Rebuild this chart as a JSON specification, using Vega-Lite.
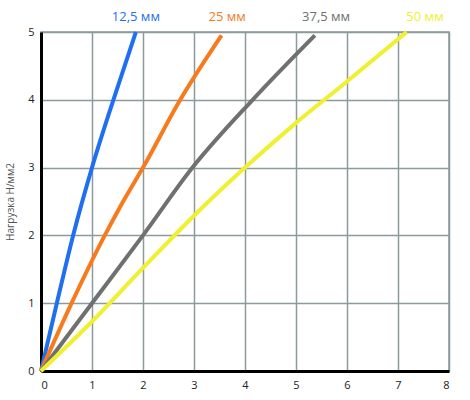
{
  "$schema": "https://vega.github.io/schema/vega-lite/v6.json",
  "width": 408,
  "height": 339,
  "autosize": "none",
  "padding": {"left": 41, "top": 32, "right": 21, "bottom": 29},
  "background": "white",
  "config": {
    "view": {"stroke": "#8c9a9a", "strokeWidth": 1.5},
    "font": "Open Sans"
  },
  "datasets": {
    "curves": [
      {"series": "12,5 мм", "x": 0, "y": 0},
      {"series": "12,5 мм", "x": 0.31, "y": 1},
      {"series": "12,5 мм", "x": 0.63, "y": 2},
      {"series": "12,5 мм", "x": 1.0, "y": 3},
      {"series": "12,5 мм", "x": 1.42, "y": 4},
      {"series": "12,5 мм", "x": 1.86, "y": 5},
      {"series": "25 мм", "x": 0, "y": 0},
      {"series": "25 мм", "x": 0.6, "y": 1},
      {"series": "25 мм", "x": 1.25, "y": 2},
      {"series": "25 мм", "x": 1.55, "y": 2.42},
      {"series": "25 мм", "x": 2.0, "y": 3},
      {"series": "25 мм", "x": 2.73, "y": 4},
      {"series": "25 мм", "x": 3.54, "y": 4.95},
      {"series": "37,5 мм", "x": 0, "y": 0},
      {"series": "37,5 мм", "x": 1.0, "y": 1},
      {"series": "37,5 мм", "x": 2.0, "y": 2},
      {"series": "37,5 мм", "x": 2.97, "y": 3},
      {"series": "37,5 мм", "x": 4.15, "y": 4},
      {"series": "37,5 мм", "x": 5.37, "y": 4.95},
      {"series": "50 мм", "x": 0, "y": 0},
      {"series": "50 мм", "x": 1, "y": 0.73},
      {"series": "50 мм", "x": 2, "y": 1.52},
      {"series": "50 мм", "x": 3, "y": 2.29},
      {"series": "50 мм", "x": 4, "y": 3.0},
      {"series": "50 мм", "x": 5, "y": 3.66},
      {"series": "50 мм", "x": 6, "y": 4.27},
      {"series": "50 мм", "x": 7.17, "y": 5}
    ],
    "labels": [
      {"series": "12,5 мм", "x": 1.86, "y": 5},
      {"series": "25 мм", "x": 3.65, "y": 5},
      {"series": "37,5 мм", "x": 5.59, "y": 5},
      {"series": "50 мм", "x": 7.53, "y": 5}
    ]
  },
  "layer": [
    {
      "data": {"name": "curves"},
      "mark": {"type": "line", "strokeWidth": 4, "strokeCap": "butt", "interpolate": "monotone", "clip": false},
      "encoding": {
        "x": {
          "field": "x",
          "type": "quantitative",
          "scale": {"domain": [0, 8], "nice": false},
          "axis": {
            "title": null,
            "values": [0, 1, 2, 3, 4, 5, 6, 7, 8],
            "format": "d",
            "labelOverlap": false,
            "ticks": false,
            "labelPadding": 8,
            "labelFontSize": 11,
            "labelColor": "#222222",
            "domainColor": "black",
            "domainWidth": 3,
            "gridColor": "#8c9a9a",
            "gridWidth": 1.5,
            "gridOpacity": 1
          }
        },
        "y": {
          "field": "y",
          "type": "quantitative",
          "scale": {"domain": [0, 5], "nice": false},
          "axis": {
            "title": "Нагрузка Н/мм2",
            "titleFontSize": 10,
            "titleFontWeight": "normal",
            "titleColor": "#555555",
            "titlePadding": 12,
            "values": [0, 1, 2, 3, 4, 5],
            "format": "d",
            "labelOverlap": false,
            "ticks": false,
            "labelPadding": 7,
            "labelFontSize": 11,
            "labelColor": "#222222",
            "domainColor": "black",
            "domainWidth": 3,
            "gridColor": "#8c9a9a",
            "gridWidth": 1.5,
            "gridOpacity": 1
          }
        },
        "color": {
          "field": "series",
          "type": "nominal",
          "scale": {
            "domain": ["12,5 мм", "25 мм", "37,5 мм", "50 мм"],
            "range": ["#1f6ff0", "#f77a1c", "#707070", "#f0f032"]
          },
          "legend": null
        },
        "detail": {"field": "series"}
      }
    },
    {
      "data": {"name": "labels"},
      "mark": {"type": "text", "fontSize": 13, "dy": -15, "align": "center", "baseline": "middle", "clip": false},
      "encoding": {
        "x": {"field": "x", "type": "quantitative"},
        "y": {"field": "y", "type": "quantitative"},
        "text": {"field": "series"},
        "color": {"field": "series", "type": "nominal", "legend": null}
      }
    }
  ]
}
